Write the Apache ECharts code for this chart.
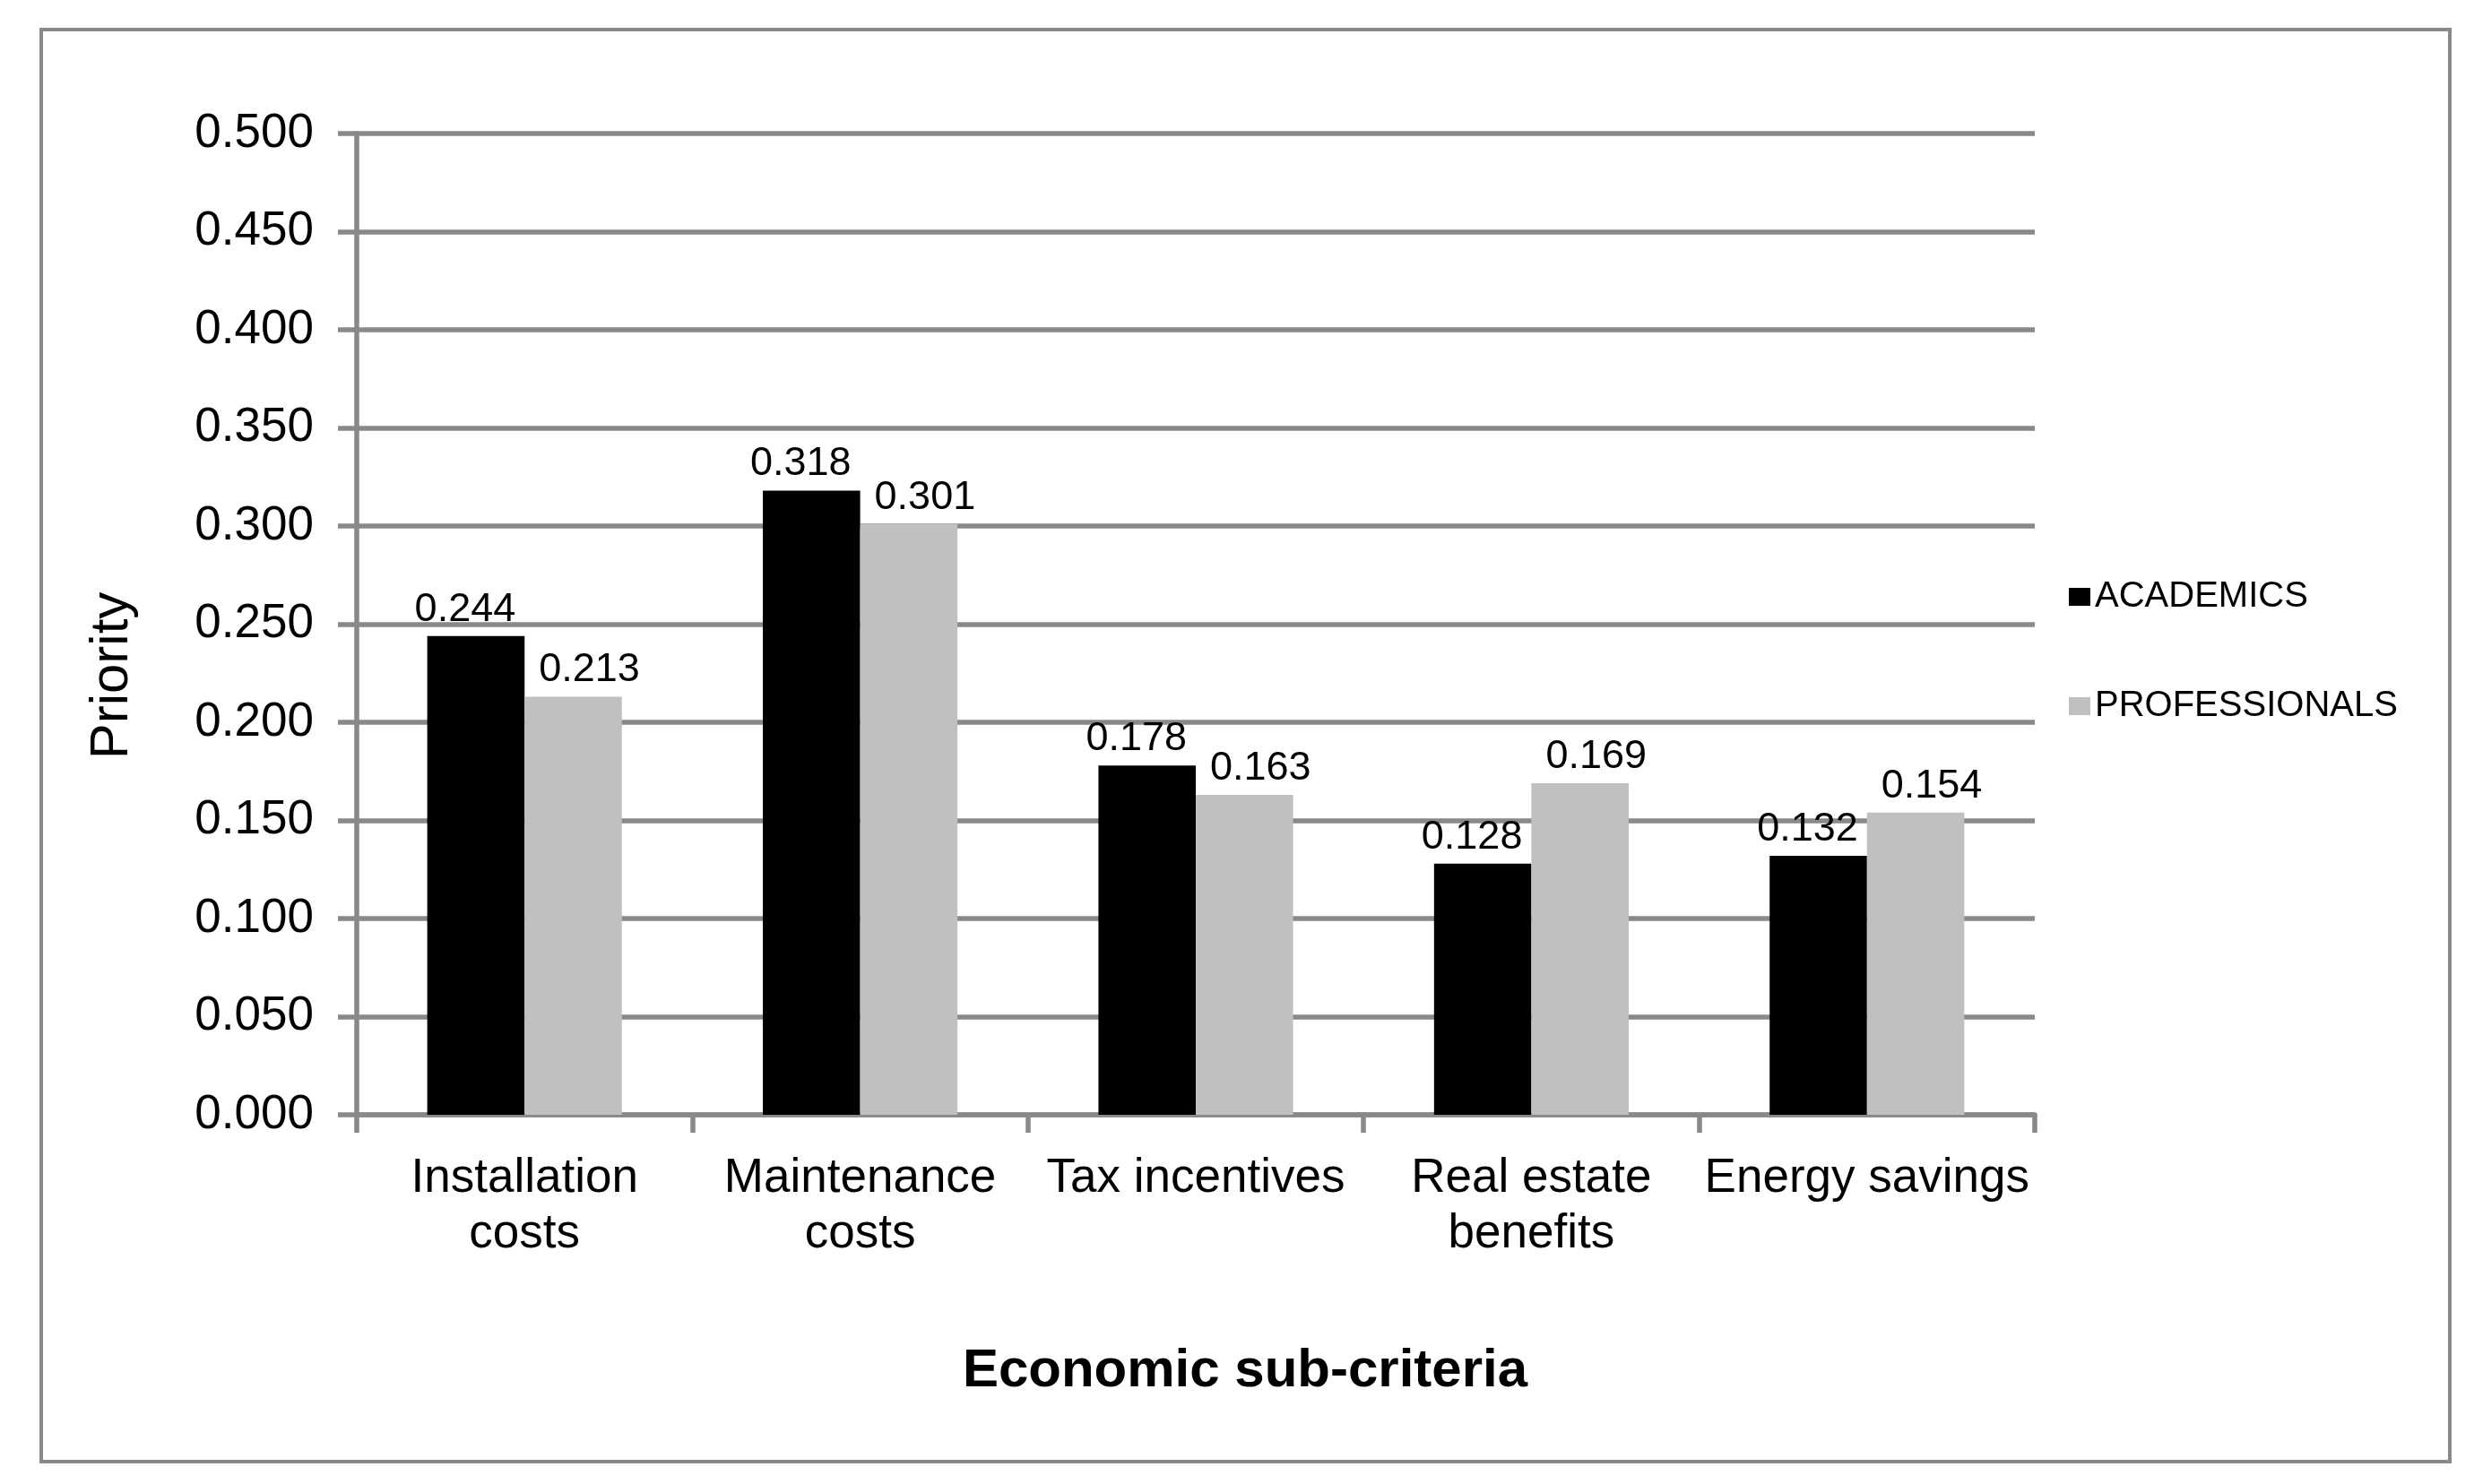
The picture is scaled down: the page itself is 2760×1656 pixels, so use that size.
<!DOCTYPE html>
<html>
<head>
<meta charset="utf-8">
<script src="https://cdn.jsdelivr.net/npm/echarts@6/dist/echarts.min.js"></script>
<style>
html,body{margin:0;padding:0;background:#fff;}
#chart{width:2760px;height:1656px;}
</style>
</head>
<body>
<div id="chart"></div>
<script>
const categories = ['Installation costs', 'Maintenance costs', 'Tax incentives', 'Real estate benefits', 'Energy savings'];
const tickLabels = ['Installation\ncosts', 'Maintenance\ncosts', 'Tax incentives', 'Real estate\nbenefits', 'Energy savings'];
const seriesNames = ['ACADEMICS', 'PROFESSIONALS'];
const academics = [0.244, 0.318, 0.178, 0.128, 0.132];
const professionals = [0.213, 0.301, 0.163, 0.169, 0.154];
const yMin = 0, yMax = 0.5, yStep = 0.05;
const xTitle = 'Economic sub-criteria';
const yTitle = 'Priority';

const FONT = '"Liberation Sans", Arial, Helvetica, sans-serif';
const GRAY = '#898989';

const chart = echarts.init(document.getElementById('chart'));
function labelStyle(dx) {
  return {
    show: true, position: 'top', distance: 7, offset: [dx, 0],
    fontFamily: FONT, fontSize: 45, color: '#000',
    formatter: p => p.value.toFixed(3)
  };
}
chart.setOption({
  backgroundColor: '#fff',
  animation: false,
  textStyle: { fontFamily: FONT },
  grid: { left: 398, right: 490, top: 149, bottom: 412, containLabel: false },
  legend: {
    orient: 'vertical', left: 2303, top: 641,
    itemWidth: 24, itemHeight: 20, itemGap: 82,
    icon: 'rect',
    textStyle: { fontFamily: FONT, fontSize: 40, color: '#000', lineHeight: 40 },
    data: seriesNames
  },
  xAxis: {
    type: 'category', data: categories,
    axisLine: { lineStyle: { color: GRAY, width: 5.5 } },
    axisTick: { show: true, length: 20, lineStyle: { color: GRAY, width: 5.5 } },
    axisLabel: {
      interval: 0, margin: 40, fontFamily: FONT, fontSize: 53, color: '#000', lineHeight: 62,
      formatter: (v, i) => tickLabels[i]
    },
    splitLine: { show: false }
  },
  yAxis: {
    type: 'value', min: yMin, max: yMax, interval: yStep,
    axisLine: { show: true, lineStyle: { color: GRAY, width: 5.5 } },
    axisTick: { show: true, length: 21, lineStyle: { color: GRAY, width: 5.5 } },
    axisLabel: { margin: 48, fontFamily: FONT, fontSize: 53, color: '#000', formatter: v => v.toFixed(3) },
    splitLine: { show: true, lineStyle: { color: GRAY, width: 5.5 } }
  },
  series: [
    { name: seriesNames[0], type: 'bar', data: academics, barGap: '0%', barCategoryGap: '42%',
      itemStyle: { color: '#000000' }, label: labelStyle(-12) },
    { name: seriesNames[1], type: 'bar', data: professionals, barGap: '0%', barCategoryGap: '42%',
      itemStyle: { color: '#C0C0C0' }, label: labelStyle(18) }
  ],
  graphic: [
    { type: 'rect', z: -1, silent: true,
      shape: { x: 46, y: 33, width: 2687, height: 1598 },
      style: { fill: 'none', stroke: GRAY, lineWidth: 4 } },
    { type: 'text', x: 1389, y: 1530, silent: true,
      style: { text: xTitle, font: 'bold 60px ' + FONT, fill: '#000', textAlign: 'center', textVerticalAlign: 'middle' } },
    { type: 'text', x: 125, y: 754, rotation: Math.PI / 2, silent: true,
      style: { text: yTitle, font: '60px ' + FONT, fill: '#000', textAlign: 'center', textVerticalAlign: 'middle' } }
  ]
});
</script>
</body>
</html>
